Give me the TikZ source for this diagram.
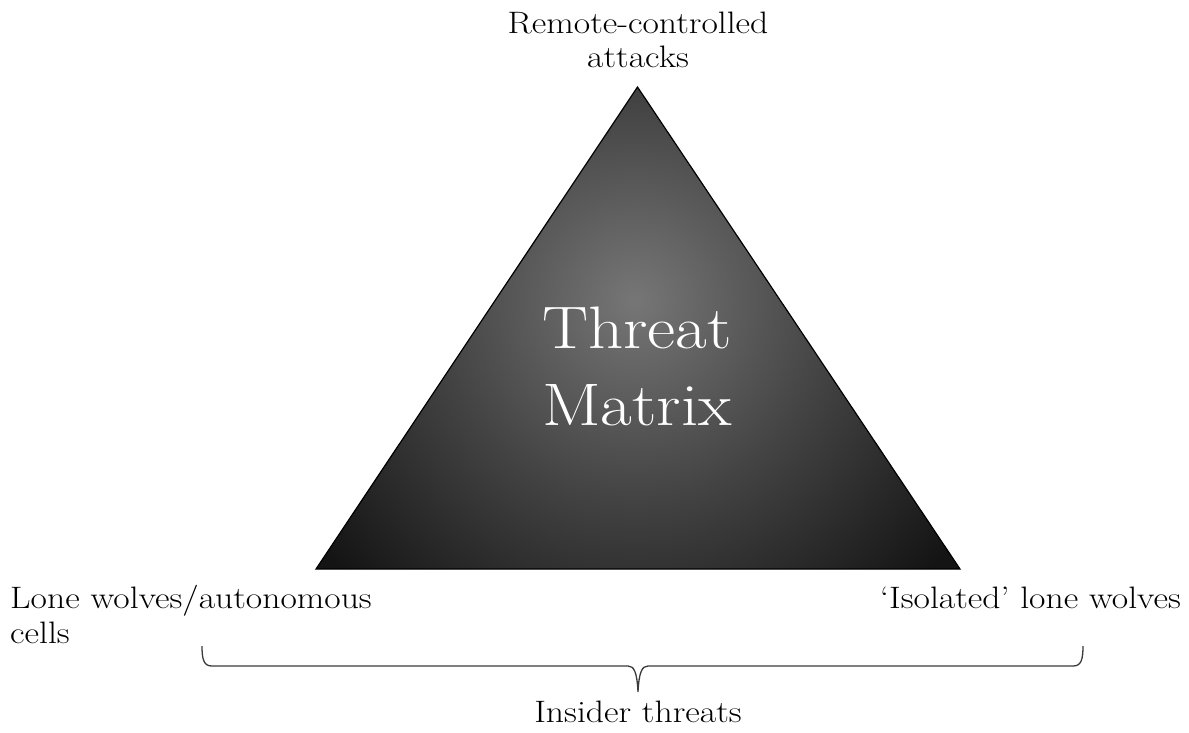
\documentclass[tikz,border=0pt]{standalone}
\usetikzlibrary{calc}
\definecolor{tridark}{HTML}{141414}
\definecolor{trimid}{HTML}{767676}
\definecolor{trihalf}{HTML}{434343}
\definecolor{bracecol}{HTML}{3A3A3A}
\pgfdeclareradialshading{trishade}{\pgfpoint{0bp}{0bp}}{%
  color(0bp)=(trimid); color(10bp)=(trihalf); color(20bp)=(tridark); color(50bp)=(tridark)}
\newcommand{\wide}[1]{\scalebox{1.15}[1]{#1}}
\tikzset{
  lbl/.style={font=\fontsize{31}{35}\selectfont, inner sep=0pt, align=center},
  bigtxt/.style={font=\fontsize{60}{77}\selectfont, text=white, inner sep=0pt, align=center},
}
\begin{document}
\begin{tikzpicture}[x=1pt,y=-1pt]
\useasboundingbox (0,0) rectangle (1189,732);
\coordinate (apex) at (637.5,87);
\coordinate (bl) at (316,569);
\coordinate (br) at (960,569);
% triangle with radial shading
\begin{scope}
  \clip (apex) -- (bl) -- (br) -- cycle;
  \shade[shading=trishade] (635,300) circle (500);
\end{scope}
\draw[black, line width=1.2pt, line join=miter] (apex) -- (bl) -- (br) -- cycle;
% central text
\node[bigtxt, anchor=base] (t1) at (637,348) {\wide{Threat}};
\node[bigtxt, anchor=base] (t2) at (637,425) {\wide{Matrix}};
% labels
\node[lbl, anchor=base] (top1) at (638,33) {\wide{Remote-controlled}};
\node[lbl, anchor=base] (top2) at (638,67) {\wide{attacks}};
\node[lbl, anchor=base west] (l1) at (10,608) {\wide{Lone wolves/autonomous}};
\node[lbl, anchor=base west] (l2) at (10,643) {\wide{cells}};
\node[lbl, anchor=base east] (r1) at (1181,608) {\wide{`Isolated' lone wolves}};
\node[lbl, anchor=base] (bot) at (638,722) {\wide{Insider threats}};
% brace
\coordinate (bL) at (202,646);
\coordinate (bR) at (1083,646);
\coordinate (bT) at (638,692);
\draw[bracecol, line width=1.3pt]
  (bL) .. controls (202,660) and (204,666) .. (212,666)
  -- (628,666) .. controls (634,666) and (637,672) .. (bT)
  .. controls (639,672) and (642,666) .. (648,666)
  -- (1073,666) .. controls (1081,666) and (1083,660) .. (bR);
\end{tikzpicture}
\end{document}
